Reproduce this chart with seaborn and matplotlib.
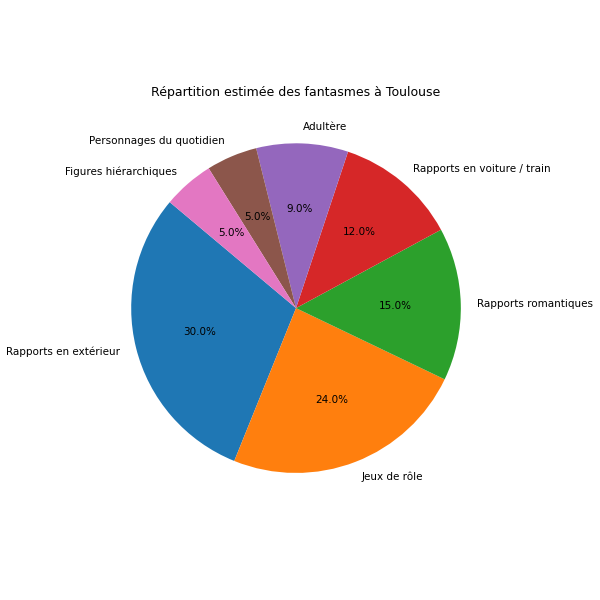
import matplotlib
matplotlib.use("Agg")
import matplotlib.pyplot as plt
import seaborn as sns

categories = [
    "Rapports en extérieur",
    "Jeux de rôle",
    "Rapports romantiques",
    "Rapports en voiture / train",
    "Adultère",
    "Personnages du quotidien",
    "Figures hiérarchiques",
]
shares = [30, 24, 15, 12, 9, 5, 5]

colors = sns.color_palette("tab10", len(categories))

fig, ax = plt.subplots(figsize=(8, 8), dpi=75)
ax.pie(shares, labels=categories, colors=colors, autopct='%1.1f%%', startangle=140)
ax.set_title("Répartition estimée des fantasmes à Toulouse")
plt.tight_layout()
plt.savefig("out.png", dpi=75)
plt.close()
